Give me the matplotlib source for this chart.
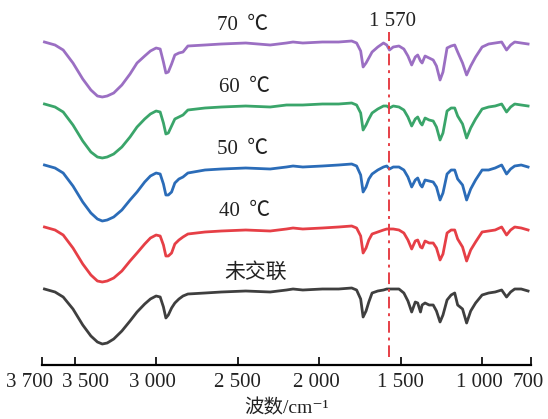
import matplotlib
matplotlib.use("Agg")
import matplotlib.pyplot as plt
from matplotlib.transforms import ScaledTranslation

# wavenumber grid (cm-1)
wavenumber = [3685, 3620, 3570, 3510, 3450, 3400, 3360, 3330, 3300, 3260,
              3210, 3160, 3117, 3070, 3035, 3000, 2975, 2955, 2940, 2925,
              2905, 2885, 2860, 2835, 2805, 2700, 2600, 2450, 2300, 2200,
              2160, 2100, 1980, 1880, 1800, 1770, 1745, 1730, 1712, 1695,
              1675, 1640, 1605, 1585, 1568, 1545, 1510, 1480, 1455, 1432,
              1410, 1395, 1378, 1368, 1350, 1325, 1300, 1280, 1258, 1240,
              1215, 1190, 1168, 1150, 1120, 1095, 1070, 1040, 1000, 960,
              920, 880, 850, 825, 800, 760, 718]

# absorption depth below each curve's own baseline (a.u., larger = deeper)
depth_70 = [0, 3, 8, 21, 37, 48, 54, 55, 54, 51,
            43, 32, 21, 14, 9, 6, 7, 20, 31, 30,
            22, 13, 11, 10, 4, 3, 2, 1, 3, 1,
            0, 1, 0, 0, -1, 1, 9, 25, 21, 16,
            10, 5, 1, 3, 8, 5, 4, 7, 14, 23,
            15, 13, 19, 21, 14, 16, 18, 24, 38, 30,
            6, 4, 3, 10, 21, 33, 24, 15, 5, 2,
            1, 0, 8, 3, 0, 1, 2]
depth_60 = [0, 3, 8, 21, 37, 48, 53, 54, 53, 50,
            43, 33, 23, 15, 10, 7, 8, 19, 30, 29,
            22, 15, 13, 11, 6, 4, 3, 2, 3, 1,
            1, 1, 0, 0, -1, 1, 9, 26, 21, 15,
            9, 5, 2, 2, 4, 2, 3, 6, 13, 22,
            15, 13, 19, 21, 14, 16, 17, 23, 36, 29,
            7, 4, 4, 12, 20, 34, 24, 15, 5, 3,
            2, 0, 8, 3, 0, 1, 2]
depth_50 = [0, 3, 8, 21, 37, 48, 54, 56, 55, 52,
            45, 35, 27, 17, 11, 8, 9, 19, 30, 30,
            27, 18, 14, 12, 8, 5, 4, 3, 4, 2,
            1, 2, 1, 0, -1, 1, 10, 27, 22, 14,
            9, 5, 2, 1, 4, 2, 2, 5, 12, 22,
            15, 13, 20, 22, 15, 16, 17, 22, 35, 28,
            9, 5, 5, 14, 20, 35, 24, 15, 5, 5,
            3, 0, 9, 4, 1, 0, 2]
depth_40 = [0, 3, 8, 21, 37, 48, 54, 55, 54, 51,
            44, 34, 26, 17, 11, 8, 9, 18, 29, 29,
            26, 17, 13, 10, 7, 5, 4, 3, 4, 2,
            1, 2, 1, 0, -1, 1, 9, 26, 21, 13,
            7, 5, 3, 2, 2, 2, 3, 6, 13, 22,
            14, 13, 20, 21, 14, 16, 16, 21, 33, 27,
            6, 3, 3, 12, 20, 34, 23, 15, 5, 4,
            3, 0, 8, 3, 0, 1, 3]
depth_raw = [0, 3, 8, 20, 36, 47, 53, 55, 54, 50,
             42, 32, 23, 15, 10, 7, 8, 18, 29, 26,
             19, 14, 10, 7, 5, 4, 3, 2, 3, 1,
             0, 1, 0, 0, -1, 1, 10, 28, 22, 13,
             4, 2, 1, 0, 0, 0, 0, 4, 12, 23,
             13, 14, 23, 16, 14, 16, 16, 22, 33, 26,
             11, 6, 4, 16, 20, 34, 22, 14, 6, 4,
             3, 1, 8, 3, 0, 0, 2]

spectra = [depth_70, depth_60, depth_50, depth_40, depth_raw]
labels = ["70 \u2009℃", "60 \u2009℃", "50 \u2009℃", "40 \u2009℃", "未交联"]
label_x = [2467, 2460, 2467, 2455, 2390]
colors = ["#9B6FC3", "#3AA56A", "#2B6CB8", "#E63F46", "#3F3F3F"]
offsets = [323, 261, 200, 138, 76]

tick_pos = [3700, 3500, 3000, 2500, 2000, 1500, 1000, 700]
tick_text = ["3 700", "3 500", "3 000", "2 500", "2 000", "1 500", "1 000", "700"]
tick_shift = [-12, 11, -4, 0, -3, 0, -3, -3]
mark_pos = 1570
mark_text = "1 570"

fonts = ["Liberation Serif", "Noto Sans CJK SC", "DejaVu Serif"]
plt.rcParams["font.family"] = fonts

fig = plt.figure(figsize=(5.48, 4.19), dpi=100)
ax = fig.add_axes([42 / 548, 54 / 419, 489 / 548, 365 / 419])

for i in range(len(spectra)):
    y = [offsets[i] - d for d in spectra[i]]
    ax.plot(wavenumber, y, color=colors[i], lw=2.0, solid_joinstyle="round")
    ax.text(label_x[i], offsets[i] + 16, labels[i], fontsize=15, ha="center",
            va="center", color="#222222")

ax.plot([mark_pos, mark_pos], [8, 333], color="#E63F46", lw=1.4,
        dashes=[6, 2.5, 1.5, 2.5])
ax.text(mark_pos - 20, 343, mark_text, fontsize=15, ha="center", va="center",
        color="#222222")

ax.set_xlim(3700, 700)
ax.set_ylim(0, 365)
ax.set_xticks(tick_pos)
ax.set_xticklabels(tick_text, fontsize=15)
ax.set_yticks([])
ax.tick_params(axis="x", direction="in", length=6, width=1.4, pad=6,
               colors="#222222")
for lab, dx in zip(ax.get_xticklabels(), tick_shift):
    lab.set_transform(lab.get_transform() + ScaledTranslation(dx / 100, 0, fig.dpi_scale_trans))
for s in ["left", "right", "top"]:
    ax.spines[s].set_visible(False)
ax.spines["bottom"].set_linewidth(1.6)
ax.set_xlabel("波数/cm⁻¹", fontsize=14, labelpad=5, color="#222222")
ax.patch.set_alpha(0)

fig.savefig("out.png", dpi=100)
